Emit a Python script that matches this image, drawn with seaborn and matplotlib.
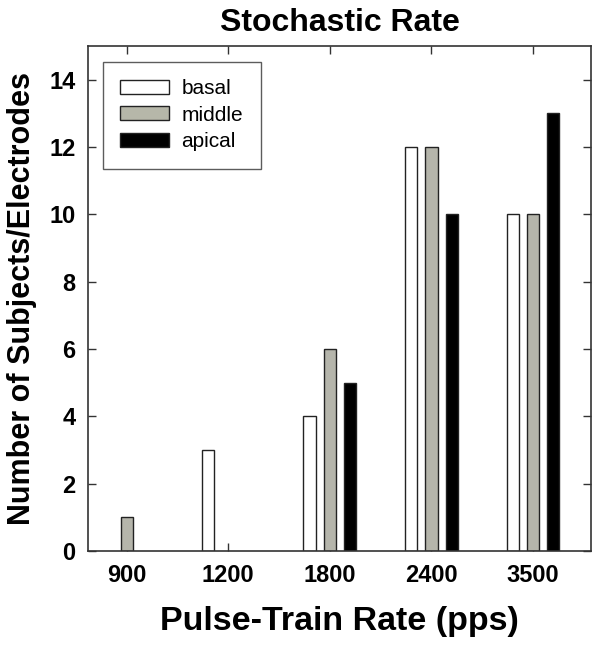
import numpy as np
import pandas as pd
import matplotlib
matplotlib.use("Agg")
import matplotlib.pyplot as plt
from matplotlib.patches import Patch
import seaborn as sns

# ------------------------------------------------------------
# Data
# ------------------------------------------------------------
rates = ["900", "1200", "1800", "2400", "3500"]
groups = ["basal", "middle", "apical"]
basal = [0, 3, 4, 12, 10]
middle = [1, 0, 6, 12, 10]
apical = [0, 0, 5, 10, 13]

colors = {"basal": "#ffffff", "middle": "#b6b7a9", "apical": "#000000"}

df = pd.DataFrame({
    "rate": rates * 3,
    "group": ["basal"] * 5 + ["middle"] * 5 + ["apical"] * 5,
    "count": basal + middle + apical,
})

sns.set_style("ticks")
plt.rcParams["font.family"] = ["Liberation Sans", "DejaVu Sans"]
plt.rcParams["text.color"] = "black"
plt.rcParams["axes.labelcolor"] = "black"
plt.rcParams["xtick.color"] = "black"
plt.rcParams["ytick.color"] = "black"

fig = plt.figure(figsize=(6.01, 6.48), dpi=100)
ax = fig.add_axes([88 / 601, 97 / 648, 503 / 601, 505 / 648])

sns.barplot(data=df, x="rate", y="count", hue="group", order=rates,
            hue_order=groups, palette=colors, width=0.6, gap=0.4,
            edgecolor="#222222", linewidth=1.0, legend=False, ax=ax)

# hide zero-height bars (no outline line at baseline)
for p in ax.patches:
    if p.get_height() == 0:
        p.set_visible(False)

ax.set_xlim(-0.38, 4.57)
ax.set_ylim(0, 15)
ax.set_yticks(np.arange(0, 15, 2))
ax.tick_params(direction="in", top=True, right=True, length=6, width=1,
               labelsize=17, pad=9, color="#333333")
for lbl in ax.get_xticklabels() + ax.get_yticklabels():
    lbl.set_fontweight("bold")
for s in ax.spines.values():
    s.set_color("#333333")
    s.set_linewidth(1.2)

ax.set_xlabel("Pulse-Train Rate (pps)", fontsize=24.5, fontweight="bold",
              labelpad=14)
ax.set_ylabel("Number of Subjects/Electrodes", fontsize=22,
              fontweight="bold", labelpad=9)
ax.set_title("Stochastic Rate", fontsize=23, fontweight="bold", pad=11)

handles = [Patch(facecolor=colors[g], edgecolor="#222222", linewidth=1.0,
                 label=g) for g in groups]
leg = ax.legend(handles=handles, loc="upper left",
                bbox_to_anchor=(0.029, 0.969), borderaxespad=0, fontsize=15,
                frameon=True, fancybox=False, edgecolor="#333333",
                handlelength=2.35, handleheight=0.67, borderpad=0.85,
                labelspacing=0.35, handletextpad=0.58)
leg.get_frame().set_linewidth(1.0)

fig.savefig("out.png", dpi=100)
